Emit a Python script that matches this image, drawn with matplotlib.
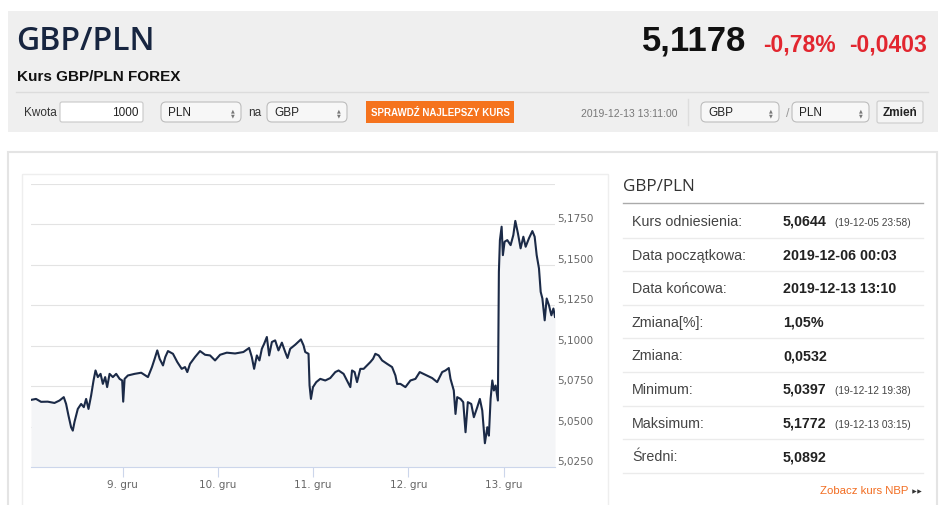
import matplotlib
matplotlib.use("Agg")
import matplotlib.pyplot as plt
from matplotlib.patches import Rectangle, FancyBboxPatch
from matplotlib.transforms import offset_copy

# GBP/PLN intraday rate, hours counted from 2019-12-08 00:00
hours = [0.83, 2.10, 3.36, 5.05, 6.75, 8.01, 9.09, 9.68, 10.28, 10.94,
         11.37, 11.80, 12.63, 13.47, 14.15, 14.73, 15.33, 15.99, 16.60, 17.10,
         17.68, 18.37, 18.95, 19.53, 20.03, 20.64, 21.47, 22.31, 23.17, 23.82,
         24.08, 24.43, 25.26, 26.96, 28.62, 30.32, 31.33, 32.01, 32.67, 33.27,
         34.11, 34.69, 35.37, 36.63, 37.72, 38.83, 39.66, 40.24, 40.93, 42.19,
         43.45, 44.72, 45.98, 47.24, 48.51, 50.20, 52.29, 54.39, 55.83, 56.51,
         57.09, 57.78, 58.43, 59.04, 59.62, 60.30, 60.88, 61.57, 62.40, 63.23,
         64.09, 64.93, 65.51, 66.19, 67.45, 68.89, 69.55, 69.98, 70.81, 71.07,
         71.42, 71.93, 72.76, 73.77, 75.03, 76.29, 77.56, 78.39, 79.65, 80.51,
         81.35, 81.78, 82.43, 83.04, 83.87, 84.71, 85.57, 86.40, 87.08, 87.66,
         88.50, 89.36, 90.62, 91.88, 92.72, 93.14, 93.98, 95.24, 96.51, 97.77,
         98.85, 100.29, 101.99, 103.25, 104.51, 105.35, 106.18, 106.61, 107.44, 107.87,
         108.30, 109.14, 109.82, 110.40, 110.98, 111.84, 112.50, 113.36, 114.01, 114.62,
         115.28, 115.89, 116.29, 116.72, 117.15, 117.55, 117.98, 118.56, 118.81, 119.07,
         119.50, 119.82, 120.25, 120.93, 121.77, 122.45, 122.95, 123.61, 124.29, 124.98,
         125.56, 126.39, 127.25, 127.83, 128.34, 128.92, 129.35, 129.78, 130.36, 130.86,
         131.44, 132.05, 132.56, 132.96]
rate = [5.0665, 5.0671, 5.0653, 5.0654, 5.0646, 5.0661, 5.0682, 5.0640, 5.0568, 5.0496,
        5.0475, 5.0529, 5.0609, 5.0640, 5.0620, 5.0671, 5.0609, 5.0692, 5.0785, 5.0847,
        5.0806, 5.0826, 5.0764, 5.0806, 5.0744, 5.0826, 5.0806, 5.0826, 5.0795, 5.0785,
        5.0654, 5.0795, 5.0816, 5.0826, 5.0833, 5.0806, 5.0868, 5.0919, 5.0971, 5.0919,
        5.0878, 5.0930, 5.0967, 5.0950, 5.0899, 5.0857, 5.0868, 5.0837, 5.0888, 5.0930,
        5.0967, 5.0944, 5.0940, 5.0909, 5.0944, 5.0957, 5.0952, 5.0961, 5.0986, 5.0930,
        5.0857, 5.0940, 5.0909, 5.0981, 5.1012, 5.1054, 5.0940, 5.1023, 5.1033, 5.0971,
        5.1019, 5.0961, 5.0924, 5.0981, 5.1006, 5.1039, 5.1002, 5.0961, 5.0950, 5.0754,
        5.0671, 5.0744, 5.0775, 5.0795, 5.0785, 5.0800, 5.0837, 5.0847, 5.0826, 5.0785,
        5.0744, 5.0847, 5.0837, 5.0775, 5.0857, 5.0857, 5.0878, 5.0899, 5.0919, 5.0950,
        5.0940, 5.0909, 5.0888, 5.0868, 5.0816, 5.0764, 5.0764, 5.0744, 5.0785, 5.0795,
        5.0837, 5.0820, 5.0800, 5.0775, 5.0837, 5.0847, 5.0862, 5.0795, 5.0723, 5.0578,
        5.0682, 5.0671, 5.0651, 5.0465, 5.0651, 5.0640, 5.0558, 5.0620, 5.0671, 5.0599,
        5.0397, 5.0496, 5.0444, 5.0671, 5.0785, 5.0723, 5.0754, 5.0661, 5.1457, 5.1653,
        5.1736, 5.1560, 5.1643, 5.1653, 5.1622, 5.1684, 5.1772, 5.1695, 5.1602, 5.1674,
        5.1612, 5.1664, 5.1709, 5.1674, 5.1560, 5.1478, 5.1333, 5.1292, 5.1157, 5.1292,
        5.1250, 5.1188, 5.1230, 5.1178]

day_hours = [24, 48, 72, 96, 120]
day_labels = ['9. gru', '10. gru', '11. gru', '12. gru', '13. gru']
rate_ticks = [5.025, 5.05, 5.075, 5.1, 5.125, 5.15, 5.175, 5.2]

stat_labels = ['Kurs odniesienia:', 'Data początkowa:', 'Data końcowa:', 'Zmiana[%]:',
               'Zmiana:', 'Minimum:', 'Maksimum:', 'Średni:']
stat_values = ['5,0644', '2019-12-06 00:03', '2019-12-13 13:10', '1,05%',
               '0,0532', '5,0397', '5,1772', '5,0892']
stat_notes = ['(19-12-05 23:58)', '', '', '', '', '(19-12-12 19:38)', '(19-12-13 03:15)', '']

W, H = 945, 506
fig = plt.figure(figsize=(W / 100, H / 100), dpi=100)
fig.patch.set_facecolor('white')

# page background drawn in pixel coordinates
bg = fig.add_axes([0, 0, 1, 1])
bg.set_xlim(0, W)
bg.set_ylim(H, 0)
bg.axis('off')

SANS = 'Liberation Sans'
bg.add_patch(Rectangle((8, 12), 930, 121, fc='#efefef', ec='none'))
bg.plot([16, 928], [93, 93], color='#dcdcdc', lw=1)

bg.text(16, 41, 'GBP/PLN', fontsize=23, family='Open Sans', weight='semibold',
        color='#172540', va='center')
bg.text(17, 77, 'Kurs GBP/PLN FOREX', fontsize=11, family=SANS, weight='bold',
        color='#111111', va='center')
bg.text(642, 41, '5,1178', fontsize=25, family=SANS, weight='bold', color='#111111', va='center')
bg.text(763, 45, '-0,78%', fontsize=16.5, family=SANS, weight='bold', color='#e2262f', va='center')
bg.text(849, 45, '-0,0403', fontsize=16.5, family=SANS, weight='bold', color='#e2262f', va='center')


def select_box(x0, x1, label):
    bg.add_patch(FancyBboxPatch((x0, 103), x1 - x0, 20, boxstyle='round,pad=0,rounding_size=5',
                                fc='#f7f7f7', ec='#bdbdbd', lw=0.8))
    bg.text(x0 + 7, 113, label, fontsize=8.5, family=SANS, color='#222222', va='center')
    bg.text(x1 - 8, 110.5, '▲', fontsize=3.5, color='#777777', ha='center', va='center')
    bg.text(x1 - 8, 115.5, '▼', fontsize=3.5, color='#777777', ha='center', va='center')


bg.text(24, 113, 'Kwota', fontsize=8.5, family=SANS, color='#333333', va='center')
bg.add_patch(FancyBboxPatch((60, 103), 83, 20, boxstyle='round,pad=0,rounding_size=2',
                            fc='white', ec='#c8c8c8', lw=0.8))
bg.text(139, 113, '1000', fontsize=8.5, family=SANS, color='#222222', va='center', ha='right')
select_box(161, 241, 'PLN')
bg.text(248, 113, 'na', fontsize=8.5, family=SANS, color='#333333', va='center')
select_box(267, 347, 'GBP')
bg.add_patch(Rectangle((366, 102), 148, 22, fc='#f5731d', ec='none'))
bg.text(440, 113, 'SPRAWDŹ NAJLEPSZY KURS', fontsize=7, family=SANS, weight='bold',
        color='white', ha='center', va='center')
bg.text(581, 114, '2019-12-13 13:11:00', fontsize=7.5, family=SANS, color='#777777', va='center')
bg.plot([688, 688], [100, 126], color='#dddddd', lw=1)
select_box(701, 779, 'GBP')
bg.text(786, 114, '/', fontsize=9, family=SANS, color='#999999', va='center')
select_box(792, 869, 'PLN')
bg.add_patch(FancyBboxPatch((877, 102), 46, 22, boxstyle='round,pad=0,rounding_size=2',
                            fc='#f4f4f4', ec='#cccccc', lw=0.8))
bg.text(900, 113, 'Zmień', fontsize=8.5, family=SANS, weight='bold', color='#222222',
        ha='center', va='center')

# lower panel and chart card
bg.add_patch(Rectangle((8, 153), 929, 370, fc='white', ec='#e4e4e4', lw=1.5))
bg.add_patch(Rectangle((22, 175), 586, 360, fc='white', ec='#eeeeee', lw=1))

# stats table
bg.text(623, 187, 'GBP/PLN', fontsize=12.3, family='Open Sans', color='#333333', va='center')
bg.plot([623, 923], [203.5, 203.5], color='#aaaaaa', lw=1)
for i, (lab, val, note) in enumerate(zip(stat_labels, stat_values, stat_notes)):
    yc = 222 + i * 33.6
    bg.text(632, yc, lab, fontsize=10.3, family=SANS, color='#444444', va='center')
    bg.text(783, yc, val, fontsize=10.3, family=SANS, weight='bold', color='#222222', va='center')
    if note:
        bg.text(835, yc + 1, note, fontsize=7.3, family=SANS, color='#444444', va='center')
    bg.plot([623, 923], [yc + 16.5, yc + 16.5], color='#ebebeb', lw=1)
bg.text(908, 491, 'Zobacz kurs NBP', fontsize=8.2, family=SANS, color='#f26d21',
        ha='right', va='center')
bg.plot([914, 919], [491.5, 491.5], ls='none', marker='>', ms=3.2, color='#333333', mew=0)

# chart
ax = fig.add_axes([31 / W, (H - 468) / H, (555 - 31) / W, (468 - 185) / H])
ax.set_facecolor('none')
ax.fill_between(hours, rate, rate_ticks[0], color='#f4f5f7', lw=0)
ax.plot(hours, rate, color='#1b2a47', lw=1.5)
ax.set_xlim(hours[0], hours[-1])
ax.set_ylim(rate_ticks[0], rate_ticks[-1])
ax.set_yticks(rate_ticks)
ax.set_yticklabels([])
ax.tick_params(axis='y', length=0)
ax.grid(axis='y', color='#e3e3e3', lw=0.8)
ax.set_axisbelow(True)
ax.set_xticks(day_hours)
ax.set_xticklabels(day_labels)
ax.tick_params(axis='x', direction='out', length=7, width=0.8, color='#ccd6eb',
               labelcolor='#666666', labelsize=7.5, pad=2)
for side in ['top', 'left', 'right']:
    ax.spines[side].set_visible(False)
ax.spines['bottom'].set_color('#ccd6eb')
ax.spines['bottom'].set_linewidth(0.8)

label_tr = offset_copy(ax.get_yaxis_transform(), fig=fig, x=2, y=1, units='dots')
for v in rate_ticks[:-1]:
    ax.text(1.0, v, f'{v:.4f}'.replace('.', ','), transform=label_tr, fontsize=7.5,
            color='#666666', ha='left', va='bottom', clip_on=False)

fig.savefig('out.png', dpi=100)
